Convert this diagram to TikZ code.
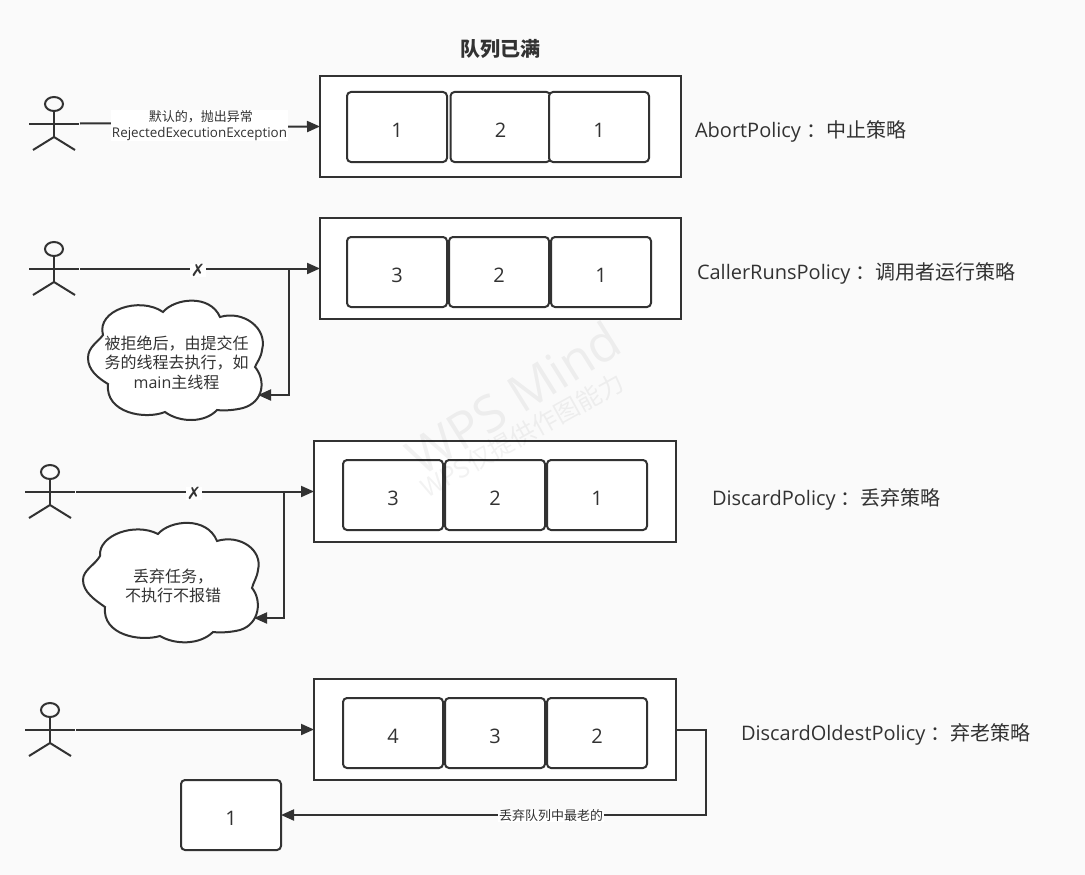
\documentclass[tikz,border=0pt]{standalone}
\usepackage{fontspec}
\setmainfont{Open Sans}
\newfontfamily\cjk{Noto Sans CJK SC}
\newfontfamily\sym{DejaVu Sans}
\definecolor{ink}{HTML}{323232}
\definecolor{paper}{HTML}{FAFAFA}
\newcommand{\fsz}[1]{\fontsize{#1pt}{#1pt}\selectfont}
\newcommand{\dg}[1]{\raisebox{-10.3pt}[0pt][0pt]{#1}}
\usetikzlibrary{arrows.meta}
\tikzset{
  x=1pt,y=-1pt,
  every node/.style={inner sep=0pt,outer sep=0pt,text=ink},
  wire/.style={draw=ink,line width=2pt},
  conn/.style={wire,-{Triangle[length=13pt,width=11pt]}},
  queuebox/.style={draw=ink,line width=2pt,fill=white,minimum width=361pt,minimum height=101pt},
  cellbox/.style={draw=ink,line width=2pt,fill=white,rounded corners=4pt,minimum width=100pt,minimum height=70pt,font=\fsz{20}},
  polname/.style={anchor=west,font=\fsz{20}},
  edgelab/.style={fill=white,font=\fsz{13.4},align=center,inner xsep=1pt,inner ysep=1pt},
  cloudtxt/.style={font=\fsz{16},align=center},
  cloudline/.style={draw=ink,line width=2pt,fill=white},
  marklab/.style={fill=white,font=\sym\fsz{17},inner xsep=0.5pt,inner ysep=0pt},
  wmark/.style={text=black,text opacity=0.05},
}
\newcommand{\actor}[3]{% name, x, y of head centre
  \draw[wire] (#2,#3) ellipse [x radius=9,y radius=7];
  \draw[wire] (#2,#3+7) -- (#2,#3+33);
  \draw[wire] (#2-25,#3+19.5) -- (#2+25,#3+19.5);
  \draw[wire] (#2-21,#3+46) -- (#2,#3+33) -- (#2+21,#3+46);
  \coordinate (#1) at (#2+26,#3+19.5);
}
\newcommand{\colonsp}{\hspace{5pt}{\cjk ：}}
\begin{document}
\begin{tikzpicture}
\useasboundingbox (0,0) rectangle (1085,875);
\fill[paper] (0,0) rectangle (1085,875);

\node[font=\cjk\bfseries\fsz{20}] (title) at (500.5,49) {队列已满};

% row 1
\actor{a1}{54}{104}
\node[queuebox] (q1) at (500.5,126.5) {};
\node[cellbox] (c11) at (397,127) {\dg{1}};
\node[cellbox] (c12) at (500.5,127) {\dg{2}};
\node[cellbox] (c13) at (599,127) {\dg{1}};
\draw[conn] (a1) -- (200,123) -- (200,127) -- (q1.west);
\node[edgelab] (l1) at (199.5,125.5) {{\cjk\fsz{13} 默认的，抛出异常}\\[2pt]RejectedExecutionException};
\node[polname] (n1) at (695,131.5) {AbortPolicy\colonsp{\cjk 中止策略}};

% row 2
\actor{a2}{54}{249}
\node[queuebox] (q2) at (500.5,268.5) {};
\node[cellbox] (c21) at (397,272) {\dg{3}};
\node[cellbox] (c22) at (499,272) {\dg{2}};
\node[cellbox] (c23) at (601,272) {\dg{1}};
\draw[conn] (a2) -- (q2.west);
\node[marklab] (x2) at (198,270.5) {✗};
\coordinate (j2) at (289,268.5);
\node[polname] (n2) at (697,273.5) {CallerRunsPolicy\colonsp{\cjk 调用者运行策略}};
\coordinate (t2) at (258,395);
\draw[cloudline] (103,335) .. controls (96,310) and (140,296) .. (163,312)
  .. controls (175,298) and (210,294) .. (220,317)
  .. controls (243,310) and (268,328) .. (262,350)
  .. controls (261,358) and (257,362) .. (255,367)
  .. controls (266,380) and (264,402) .. (243,408)
  .. controls (235,410) and (225,411) .. (217,410)
  .. controls (205,423) and (180,423) .. (165,412)
  .. controls (145,420) and (105,413) .. (108,384)
  .. controls (98,378) and (88,370) .. (88,358)
  .. controls (88,347) and (98,342) .. (103,335) -- cycle;
\node[cloudtxt] (tx2) at (176.5,362.5) {\cjk 被拒绝后，由提交任\\[3.5pt]\cjk 务的线程去执行，如\\[3.5pt]main{\cjk 主线程}};
\draw[conn] (j2) -- (289,395) -- (t2);

% row 3
\actor{a3}{50}{472}
\node[queuebox,minimum width=362pt] (q3) at (495,491.5) {};
\node[cellbox] (c31) at (393,495) {\dg{3}};
\node[cellbox] (c32) at (495,495) {\dg{2}};
\node[cellbox] (c33) at (597,495) {\dg{1}};
\draw[conn] (a3) -- (q3.west);
\node[marklab] (x3) at (194,493.5) {✗};
\coordinate (j3) at (284,491.5);
\node[polname] (n3) at (712,499.5) {DiscardPolicy\colonsp{\cjk 丢弃策略}};
\coordinate (t3) at (254,618);
\draw[cloudline] (100,556) .. controls (98,535) and (135,522) .. (158,534)
  .. controls (170,520) and (207,516) .. (217,541)
  .. controls (240,534) and (263,550) .. (258,570)
  .. controls (257,578) and (253,583) .. (252,588)
  .. controls (262,600) and (260,624) .. (240,630)
  .. controls (232,632) and (222,633) .. (213,632)
  .. controls (200,645) and (175,645) .. (160,636)
  .. controls (140,642) and (102,635) .. (105,607)
  .. controls (95,600) and (83,592) .. (83,580)
  .. controls (83,570) and (95,565) .. (100,556) -- cycle;
\node[cloudtxt] (tx3) at (173,586) {\cjk 丢弃任务，\\[3.5pt]\cjk 不执行不报错};
\draw[conn] (j3) -- (284,618) -- (t3);

% row 4
\actor{a4}{50}{710}
\node[queuebox,minimum width=362pt] (q4) at (495,729.5) {};
\node[cellbox] (c41) at (393,733) {\dg{4}};
\node[cellbox] (c42) at (495,733) {\dg{3}};
\node[cellbox] (c43) at (597,733) {\dg{2}};
\draw[conn] (a4) -- (q4.west);
\node[polname] (n4) at (741,734) {DiscardOldestPolicy\colonsp{\cjk 弃老策略}};
\node[cellbox] (old) at (231,815) {\dg{1}};
\draw[conn] (q4.east) -- (706,729.5) -- (706,815) -- (old.east);
\node[edgelab,font=\cjk\fsz{13},inner ysep=0pt] (l4) at (551,816) {丢弃队列中最老的};

% watermark, over everything
\node[wmark,rotate=32,font=\fsz{51}] (wm1) at (513,398) {WPS Mind};
\node[wmark,rotate=29,font=\cjk\fsz{25}] (wm2) at (522,435) {WPS仅提供作图能力};
\end{tikzpicture}
\end{document}
